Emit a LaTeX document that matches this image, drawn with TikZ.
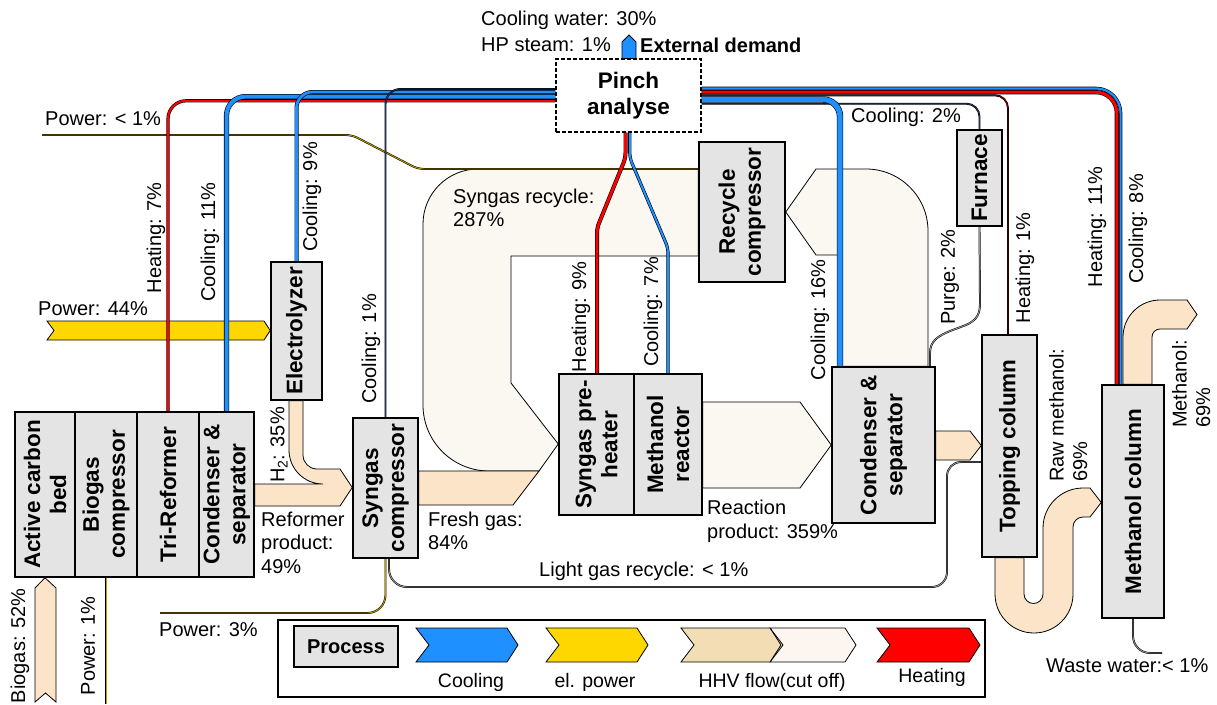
\documentclass[tikz,border=0pt]{standalone}
\usepackage{fontspec}
\setmainfont{Liberation Sans}
\usetikzlibrary{calc}

\definecolor{boxgray}{RGB}{228,228,228}
\definecolor{coolblue}{RGB}{30,144,255}
\definecolor{heatred}{RGB}{255,0,0}
\definecolor{powergold}{RGB}{255,215,0}
\definecolor{tanflow}{RGB}{252,228,200}
\definecolor{cutflow}{RGB}{251,247,241}
\definecolor{legtan}{RGB}{242,221,180}
\definecolor{legcut}{RGB}{253,246,240}
\definecolor{navy}{RGB}{30,55,90}
\definecolor{darkred}{RGB}{120,0,0}
\definecolor{powercore}{RGB}{185,155,0}
\definecolor{gascore}{RGB}{150,150,150}

\newcommand\lblfont{\fontsize{20}{23.5}\selectfont}
\newcommand\boxfont{\fontsize{22.5}{26}\selectfont\bfseries}

\pgfdeclarelayer{bg}
\pgfdeclarelayer{flows}
\pgfsetlayers{bg,flows,main}

\begin{document}
\begin{tikzpicture}[x=1pt,y=-1pt,
  box/.style={draw=black, fill=boxgray, line width=1.5pt, inner sep=0pt},
  boxtext/.style={font=\boxfont, align=center, rotate=90, inner sep=0pt},
  lbl/.style={font=\lblfont, inner sep=0pt, align=left},
  vlbl/.style={lbl, rotate=90},
  legtext/.style={font=\fontsize{19.5}{22}\selectfont, inner sep=0pt},
  hhv/.style={draw=black, line width=0.8pt, fill=tanflow},
  cutoff/.style={draw=black, line width=0.8pt, fill=cutflow},
  chevron/.style={draw=black, line width=0.8pt, fill=#1},
  coolpipe/.style={draw=black, line width=0.6pt, double=coolblue, double distance=#1},
  heatpipe/.style={draw=black, line width=0.6pt, double=heatred, double distance=#1},
  thinpipe/.style={draw=black, line width=0.5pt, double=#1, double distance=0.9pt},
]
\useasboundingbox (0,0) rectangle (1217,704);
\begin{pgfonlayer}{bg}
  \fill[white] (0,0) rectangle (1217,704);
\end{pgfonlayer}

% ---------- process units ----------
\node[box, minimum width=60, minimum height=165] (acb) at (45,494.5) {};
\node[box, minimum width=62, minimum height=165] (bgc) at (106,494.5) {};
\node[box, minimum width=62, minimum height=165] (tri) at (168,494.5) {};
\node[box, minimum width=55, minimum height=165] (cs1) at (226.5,494.5) {};
\node[box, minimum width=51, minimum height=138] (ely) at (296.5,331) {};
\node[box, minimum width=65, minimum height=140] (sgc) at (385.5,488) {};
\node[box, minimum width=75, minimum height=141] (sph) at (596.5,444.5) {};
\node[box, minimum width=68, minimum height=141] (mer) at (668,444.5) {};
\node[box, minimum width=86, minimum height=140] (rcc) at (742,212) {};
\node[box, minimum width=103, minimum height=156] (cs2) at (883.5,445) {};
\node[box, minimum width=45, minimum height=96] (fur) at (979.5,178) {};
\node[box, minimum width=55, minimum height=222] (top) at (1009.5,446) {};
\node[box, minimum width=62, minimum height=233] (mec) at (1133,501.5) {};
\node[draw=black, dash pattern=on 4pt off 2pt, line width=1.2pt, fill=white,
      minimum width=145, minimum height=73, font=\boxfont, align=center,
      inner sep=0pt] (pinch) at (628.5,95.5) {Pinch\\analyse};

\node[boxtext] (acbt) at (acb) {Active carbon\\bed};
\node[boxtext] (bgct) at (bgc) {Biogas\\compressor};
\node[boxtext] (trit) at (tri) {Tri-Reformer};
\node[boxtext] (cs1t) at (cs1) {Condenser \&\\separator};
\node[boxtext] (elyt) at (ely) {Electrolyzer};
\node[boxtext] (sgct) at (sgc) {Syngas\\compressor};
\node[boxtext] (spht) at (sph) {Syngas pre-\\heater};
\node[boxtext] (mert) at (mer) {Methanol\\reactor};
\node[boxtext] (rcct) at (rcc) {Recycle\\compressor};
\node[boxtext] (cs2t) at (cs2) {Condenser \&\\separator};
\node[boxtext] (furt) at (fur) {Furnace};
\node[boxtext] (topt) at (top) {Topping column};
\node[boxtext] (mect) at (mec) {Methanol column};

% ---------- flows ----------
\begin{pgfonlayer}{flows}
  % syngas recycle loop (cut off)
  \path[cutoff] (rcc.west |- 0,169) -- (478,169)
     arc[start angle=90, end angle=180, radius=55pt] -- (423,405)
     arc[start angle=180, end angle=270, radius=66pt] -- (539,471)
     -- (sph.west |- 0,444) -- (511,383) -- (511,256) -- (rcc.west |- 0,256) -- cycle;
  % recycle back to the compressor (cut off)
  \path[cutoff] (816,169) -- (866,169)
     arc[start angle=90, end angle=0, radius=62pt] -- (928,0 |- cs2.north)
     -- (840,0 |- cs2.north) -- (840,255) -- (816,255) -- (rcc.east |- 0,212) -- cycle;
  % reaction product (cut off)
  \path[cutoff] (mer.east |- 0,402) -- (800,402) -- (cs2.west |- 0,445)
     -- (800,488) -- (mer.east |- 0,488) -- cycle;
  % fresh gas
  \path[hhv] (sgc.east |- 0,471) -- (539,471) -- (513,505) -- (sgc.east |- 0,505) -- cycle;
  % reformer product with hydrogen
  \path[hhv] (cs1.east |- 0,506) -- (340,506) -- (sgc.west |- 0,487.5) -- (340,469)
     -- (317,469) arc[start angle=270, end angle=180, radius=14pt] -- (303,0 |- ely.south)
     -- (289,0 |- ely.south) -- (289,450)
     arc[start angle=180, end angle=270, radius=34pt] -- (cs1.east |- 0,484) -- cycle;
  % raw methanol to topping column
  \path[hhv] (cs2.east |- 0,431) -- (970,431) -- (top.west |- 0,445.5)
     -- (970,460) -- (cs2.east |- 0,460) -- cycle;
  % topping column to methanol column
  \path[hhv] (995,0 |- top.south) -- (995,594)
     arc[start angle=180, end angle=360, radius=39pt] -- (1073,527)
     arc[start angle=180, end angle=90, radius=10pt] -- (1090,517)
     -- (mec.west |- 0,502.5) -- (1090,488) -- (1083,488)
     arc[start angle=90, end angle=180, radius=40pt] -- (1043,594)
     arc[start angle=0, end angle=-180, radius=9.5pt] -- (1024,0 |- top.south) -- cycle;
  % methanol product
  \path[hhv] (1123,0 |- mec.north) -- (1123,337)
     arc[start angle=180, end angle=90, radius=37pt] -- (1187,300) -- (1197,314.5)
     -- (1187,329) -- (1160,329)
     arc[start angle=90, end angle=180, radius=8pt] -- (1152,0 |- mec.north) -- cycle;
  % biogas feed
  \path[hhv] (35,702) -- (35,588) -- (acb.south) -- (56,588) -- (56,702) -- (45.5,693) -- cycle;
  % electric power to electrolyzer
  \path[chevron=powergold] (47,321) -- (264,321) -- (ely.west |- 0,330.5)
     -- (264,340) -- (47,340) -- (54,330.5) -- cycle;

  % small power and gas streams
  \draw[thinpipe=powercore, rounded corners=6pt] (42,135) -- (352,135) -- (418,169) -- (rcc.west |- 0,169);
  \draw[thinpipe=powercore] (bgc.south) -- (106,704);
  \draw[thinpipe=powercore] (160,613) -- (367.5,613)
     arc[start angle=270, end angle=360, radius=18pt] -- (sgc.south);
  \draw[thinpipe=gascore] (top.west |- 0,462) -- (961,462)
     arc[start angle=90, end angle=180, radius=14pt] -- (947,572)
     arc[start angle=0, end angle=-90, radius=15pt] -- (407,587)
     arc[start angle=270, end angle=180, radius=18pt] -- (389,0 |- sgc.south);
  \draw[thinpipe=gascore] (mec.south) -- (1133,636)
     arc[start angle=180, end angle=270, radius=17pt] -- (1162,653);
  \draw[thinpipe=gascore] (930,0 |- cs2.north) -- (930,353)
     .. controls (930,341) and (938,336) .. (950,331) -- (966,325)
     .. controls (977,320) and (980,314) .. (980,303) -- (fur.south);

  % utilities, left side of the pinch
  \draw[heatpipe=2pt] (pinch.west |- 0,100.8) -- (186,100.8)
     arc[start angle=90, end angle=180, radius=18pt] -- (tri.north);
  \draw[coolpipe=4pt] (pinch.west |- 0,96.6) -- (245.5,96.6)
     arc[start angle=90, end angle=180, radius=19pt] -- (cs1.north);
  \draw[coolpipe=2.8pt] (pinch.west |- 0,92) -- (312.5,92)
     arc[start angle=90, end angle=180, radius=16pt] -- (ely.north);
  \draw[thinpipe=navy] (pinch.west |- 0,89) -- (400.5,89)
     arc[start angle=90, end angle=180, radius=15pt] -- (sgc.north);

  % utilities, right side of the pinch
  \draw[thinpipe=navy] (pinch.east |- 0,103.7) -- (966.5,103.7)
     arc[start angle=90, end angle=0, radius=13pt] -- (fur.north);
  \draw[thinpipe=darkred] (pinch.east |- 0,95.3) -- (995,95.3)
     arc[start angle=90, end angle=0, radius=13pt] -- (1008,0 |- top.north);
  \draw[coolpipe=5.2pt] (pinch.east |- 0,99.5) -- (823,99.5)
     arc[start angle=90, end angle=0, radius=17pt] -- (840,0 |- cs2.north);
  \draw[heatpipe=3pt] (pinch.east |- 0,92.2) -- (1096,92.2)
     arc[start angle=90, end angle=0, radius=20.8pt] -- (1116.8,0 |- mec.north);
  \draw[coolpipe=2.2pt] (pinch.east |- 0,88.4) -- (1096,88.4)
     arc[start angle=90, end angle=0, radius=24.6pt] -- (1120.6,0 |- mec.north);

  % utilities below the pinch
  \draw[heatpipe=2.8pt, rounded corners=5pt] (625.5,0 |- pinch.south) -- (625.5,158)
     -- (597,228) -- (597,0 |- sph.north);
  \draw[coolpipe=2pt, rounded corners=5pt] (629.8,0 |- pinch.south) -- (629.8,158)
     -- (668,248) -- (668,0 |- mer.north);

  % external demand
  \path[chevron=coolblue] (622,0 |- pinch.north) -- (622,42) -- (629,35) -- (636,42)
     -- (636,0 |- pinch.north) -- cycle;
\end{pgfonlayer}

% ---------- stream labels ----------
\node[lbl, anchor=west] (lpow1) at (45,119) {Power: < 1\%};
\node[vlbl] (lheat7) at (156,238) {Heating: 7\%};
\node[vlbl] (lcool11) at (210,242) {Cooling: 11\%};
\node[vlbl] (lcool9) at (312,197) {Cooling: 9\%};
\node[vlbl] (lcool1) at (371,349) {Cooling: 1\%};
\node[lbl, anchor=west] (lpow44) at (38,309) {Power: 44\%};
\node[vlbl] (lh2) at (279,445) {H\textsubscript{2}: 35\%};
\node[lbl, anchor=west] (lref) at (261,542.5) {Reformer\\product:\\49\%};
\node[lbl, anchor=west] (lfresh) at (428,531) {Fresh gas:\\84\%};
\node[lbl, anchor=west] (lrec) at (453,208) {Syngas recycle:\\287\%};
\node[vlbl] (lheat9) at (581,317) {Heating: 9\%};
\node[vlbl] (lcool7) at (653,312) {Cooling: 7\%};
\node[lbl, anchor=west] (lreact) at (707,521.5) {Reaction\\product: 359\%};
\node[lbl, anchor=west] (llight) at (539,571) {Light gas recycle: < 1\%};
\node[vlbl] (lcool16) at (820,320) {Cooling: 16\%};
\node[lbl, anchor=west] (lcool2) at (851,117) {Cooling: 2\%};
\node[vlbl] (lpurge) at (950,277) {Purge: 2\%};
\node[vlbl] (lheat1) at (1025,268) {Heating: 1\%};
\node[vlbl] (lheat11) at (1097,227) {Heating: 11\%};
\node[vlbl] (lcool8) at (1138,229) {Cooling: 8\%};
\node[vlbl, anchor=north west] (lraw) at (1049,482) {Raw methanol:\\69\%};
\node[vlbl, anchor=north west] (lmeoh) at (1172,428) {Methanol:\\69\%};
\node[lbl, anchor=west] (lwaste) at (1046,666) {Waste water:< 1\%};
\node[vlbl] (lbiogas) at (20,646) {Biogas: 52\%};
\node[vlbl] (lpow1b) at (88,646) {Power: 1\%};
\node[lbl, anchor=west] (lpow3) at (159,630) {Power: 3\%};
\node[lbl, anchor=west] (lcw) at (481,20) {Cooling water: 30\%};
\node[lbl, anchor=west] (lhp) at (481,45) {HP steam: 1\%};
\node[lbl, anchor=west, font=\lblfont\bfseries] (lext) at (640,45) {External demand};

% ---------- legend ----------
\node[draw=black, line width=1.5pt, fill=white, minimum width=707, minimum height=77,
      inner sep=0pt] (legend) at (631.5,658.5) {};
\node[box, minimum width=104, minimum height=41, font=\fontsize{20}{24}\selectfont\bfseries]
      (legproc) at (346,646.5) {Process};
\path[chevron=coolblue] (416,628) -- (507,628) -- (518,645) -- (507,662) -- (416,662) -- (429,645) -- cycle;
\path[chevron=powergold] (546,628) -- (637,628) -- (648,645) -- (637,662) -- (546,662) -- (559,645) -- cycle;
\path[chevron=legcut] (770,628) -- (845,628) -- (856,645) -- (845,662) -- (770,662) -- (783,645) -- cycle;
\path[chevron=legtan] (681,628) -- (770,628) -- (781,645) -- (770,662) -- (681,662) -- (694,645) -- cycle;
\path[chevron=heatred] (877,628) -- (969,628) -- (980,645) -- (969,662) -- (877,662) -- (890,645) -- cycle;
\node[legtext] (legcool) at (471,682) {Cooling};
\node[legtext] (legpow) at (595,682) {el. power};
\node[legtext] (leghhv) at (772,682) {HHV flow(cut off)};
\node[legtext] (legheat) at (932,677) {Heating};
\end{tikzpicture}
\end{document}
